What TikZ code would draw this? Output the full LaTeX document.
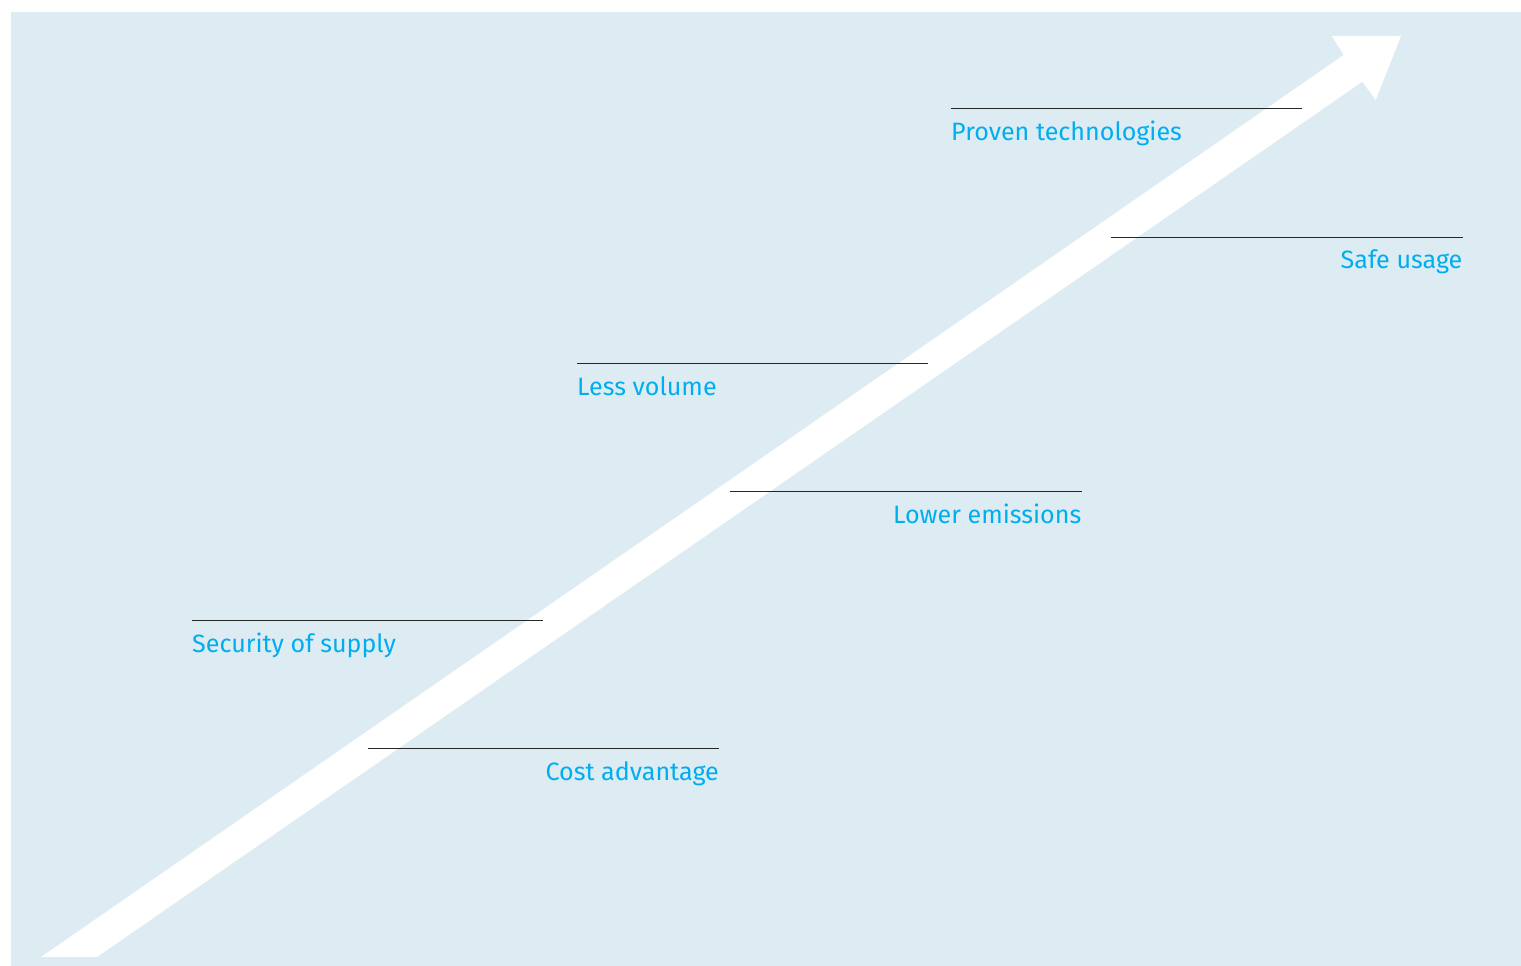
\documentclass[tikz,border=0pt]{standalone}
\usepackage{fontspec}
\setmainfont{Fira Sans}
\usepackage{tikz}
\usetikzlibrary{calc}

\definecolor{panelblue}{RGB}{221,235,242}
\definecolor{labelcyan}{RGB}{0,174,239}

\tikzset{
	benefit/.style={font=\fontsize{25.1}{30}\selectfont, text=labelcyan, inner sep=0pt},
	rule/.style={draw=black!85, line width=0.9pt}
}

\begin{document}
\begin{tikzpicture}[x=1pt, y=-1pt]
				% Frame and panel
				\useasboundingbox (0, 0) rectangle (1521, 966);
				\fill[panelblue] (11, 12) rectangle (1521, 966);
				
				% Big arrow
				\fill[white] (41, 957) -- (1343.7, 55) -- (1331.7, 36) -- (1401, 36)
					-- (1375.7, 100) -- (1362.3, 81.7) -- (97, 957) -- cycle;
				
				% Left labels
				\coordinate (proven-l) at (951, 108);
				\coordinate (proven-r) at (1302, 108);
				\draw[rule] (proven-l)--(proven-r);
				\node[benefit, anchor=base west] (proven) at ($(proven-l)+(0, 32)$) {Proven technologies};
				
				\coordinate (volume-l) at (577, 363);
				\coordinate (volume-r) at (928, 363);
				\draw[rule] (volume-l)--(volume-r);
				\node[benefit, anchor=base west] (volume) at ($(volume-l)+(0, 32)$) {Less volume};
				
				\coordinate (supply-l) at (192, 620.5);
				\coordinate (supply-r) at (543, 620.5);
				\draw[rule] (supply-l)--(supply-r);
				\node[benefit, anchor=base west] (supply) at ($(supply-l)+(0, 32)$) {Security of supply};
				
				% Right labels
				\coordinate (safe-l) at (1111, 237);
				\coordinate (safe-r) at (1462.5, 237);
				\draw[rule] (safe-l)--(safe-r);
				\node[benefit, anchor=base east] (safe) at ($(safe-r)+(0, 31)$) {Safe usage};
				
				\coordinate (emis-l) at (730, 491.5);
				\coordinate (emis-r) at (1081.5, 491.5);
				\draw[rule] (emis-l)--(emis-r);
				\node[benefit, anchor=base east] (emis) at ($(emis-r)+(0, 32)$) {Lower emissions};
				
				\coordinate (cost-l) at (368, 748.5);
				\coordinate (cost-r) at (719, 748.5);
				\draw[rule] (cost-l)--(cost-r);
				\node[benefit, anchor=base east] (cost) at ($(cost-r)+(0, 32)$) {Cost advantage};
			\end{tikzpicture}
\end{document}
